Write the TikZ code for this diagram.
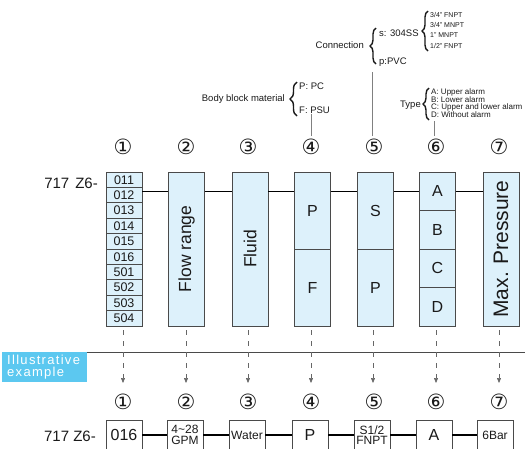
\documentclass[tikz,border=0pt]{standalone}
\usepackage{fontspec}
\setmainfont{Liberation Sans}
\newfontfamily\symfont{DejaVu Sans}
\usetikzlibrary{decorations.pathreplacing,arrows.meta}
\definecolor{boxfill}{HTML}{DDF1FB}
\definecolor{boxline}{HTML}{4A4A4A}
\definecolor{tagblue}{HTML}{5CC8F0}
\definecolor{txt}{HTML}{1A1A1A}
\begin{document}
\begin{tikzpicture}[x=1pt,y=-1pt,
  colbox/.style={draw=boxline,fill=boxfill,line width=0.8pt,minimum width=36pt,minimum height=154pt,inner sep=0pt},
  exbox/.style={draw=boxline,fill=white,line width=0.8pt,minimum width=36pt,minimum height=30pt,inner sep=0pt,text=txt,align=center},
  num/.style={font=\symfont\fontsize{21}{21}\selectfont,inner sep=0pt,text=txt},
  annot/.style={font=\fontsize{9.5}{9.5}\selectfont,inner sep=0pt,text=txt},
  tiny/.style={font=\fontsize{7}{7}\selectfont,inner sep=0pt,text=txt,anchor=west},
  small/.style={font=\fontsize{8}{8}\selectfont,inner sep=0pt,text=txt,anchor=west},
  cell/.style={font=\fontsize{12.5}{12.5}\selectfont,inner sep=0pt,text=txt},
  letter/.style={font=\fontsize{16}{16}\selectfont,inner sep=0pt,text=txt},
  vtext/.style={rotate=90,inner sep=0pt,text=txt},
  bracket/.style={decorate,decoration={brace,amplitude=7pt},line width=1.4pt,txt},
  link/.style={line width=1.6pt,black},
  lead/.style={line width=0.5pt,gray},
  darr/.style={line width=0.6pt,gray!80!black,dash pattern=on 5pt off 6pt,-{Triangle[length=5pt,width=4pt]}},
  codetxt/.style={font=\fontsize{15}{15}\selectfont,inner sep=0pt,text=txt,anchor=east}
]
\useasboundingbox (0,0) rectangle (525,448);
\clip (0,0) rectangle (525,448);

% ---------- annotations ----------
\node[annot,anchor=east] (bbm) at (285,99) {Body block material};
\draw[bracket] (297,116) -- (297,82);
\node[annot,anchor=west] (ppc) at (299,86) {P: PC};
\node[annot,anchor=west] (fpsu) at (299,110) {F: PSU};

\node[annot,anchor=east] (conn) at (364,45) {Connection};
\draw[bracket,decoration={brace,amplitude=6pt}] (376,64) -- (376,28);
\node[annot,anchor=west] (s304) at (379,33) {s: 304SS};
\node[annot,anchor=west] (ppvc) at (379,62) {p:PVC};
\draw[bracket,decoration={brace,amplitude=6pt}] (428,51) -- (428,11);
\node[tiny] (t1) at (430,15) {3/4” FNPT};
\node[tiny] (t2) at (430,25) {3/4” MNPT};
\node[tiny] (t3) at (430,35.5) {1” MNPT};
\node[tiny] (t4) at (430,46) {1/2” FNPT};

\node[annot,anchor=east] (typ) at (421,105) {Type};
\draw[bracket,decoration={brace,amplitude=6pt}] (429,120) -- (429,88);
\node[small] (ta) at (431,92) {A: Upper alarm};
\node[small] (tb) at (431,99.7) {B: Lower alarm};
\node[small] (tc) at (431,107.4) {C: Upper and lower alarm};
\node[small] (td) at (431,115.1) {D: Without alarm};

% ---------- top numbers ----------
\foreach \x/\n [count=\i] in {123/①,186/②,248/③,311/④,374/⑤,436/⑥,499/⑦}
  \node[num] (n\i) at (\x,147) {\n};

\coordinate (c4) at (311,136);
\coordinate (c5) at (372,136);
\coordinate (c6) at (434,136);
\draw[lead] (c4) -- (c4 |- fpsu.south);
\draw[lead] (c5) -- (c5 |- 0,72);
\draw[lead] (c6) -- (c6 |- 0,121);

\node[codetxt] (code1) at (98,183) {717\hspace{6pt}Z6-};

% ---------- top boxes ----------
\node[colbox] (b1) at (124,249) {};
\node[colbox] (b2) at (186.5,249) {};
\node[colbox] (b3) at (250,249) {};
\node[colbox] (b4) at (312.5,249) {};
\node[colbox] (b5) at (375.5,249) {};
\node[colbox] (b6) at (437.5,249) {};
\node[colbox] (b7) at (501,249) {};

\foreach \a/\b in {b1/b2,b2/b3,b3/b4,b4/b5,b5/b6,b6/b7}
  \draw[link] ([yshift=-20pt]\a.north east) -- ([yshift=-20pt]\b.north west);

\foreach \i in {1,...,9}
  \draw[boxline,line width=0.8pt] (106,{172+\i*15.4}) -- (142,{172+\i*15.4});
\foreach \t [count=\i] in {011,012,013,014,015,016,501,502,503,504}
  \node[cell] at (124,{172+(\i-0.5)*15.4}) {\t};

\node[vtext,font=\fontsize{17.5}{17.5}\selectfont] at (b2) {Flow range};
\node[vtext,font=\fontsize{17.5}{17.5}\selectfont] at (b3) {Fluid};
\node[vtext,font=\fontsize{21}{21}\selectfont] at (b7) {Max. Pressure};

\draw[boxline,line width=0.8pt] (b4.west) -- (b4.east);
\draw[boxline,line width=0.8pt] (b5.west) -- (b5.east);
\node[letter] at (312.5,211) {P};
\node[letter] at (312.5,288) {F};
\node[letter] at (375.5,211) {S};
\node[letter] at (375.5,288) {P};

\foreach \k in {1,2,3}
  \draw[boxline,line width=0.8pt] (419.5,{172+\k*38.5}) -- (455.5,{172+\k*38.5});
\foreach \t [count=\i] in {A,B,C,D}
  \node[letter] at (437.5,{172+(\i-0.5)*38.5}) {\t};

% ---------- separator and tag ----------
\node[fill=tagblue,minimum width=85pt,minimum height=30pt,inner sep=0pt,anchor=north west] (tag) at (2,352) {};
\node[anchor=west,inner sep=0pt,text=white,align=left,
      font=\fontsize{13}{11.5}\selectfont\addfontfeature{LetterSpace=10}] at (7,367) {Illustrative\\example};
\draw[boxline,line width=1pt] (tag.north east) -- (525,352);

% ---------- arrows ----------
\foreach \i/\x in {1/123,2/186,3/248,4/311,5/373,6/436,7/499}
  \coordinate (tip\i) at (\x,383);
\foreach \i/\x in {1/123,2/186,3/248,4/311,5/373,6/436,7/499}
  \draw[darr] (\x,330) -- (tip\i);

% ---------- bottom ----------
\foreach \x/\n [count=\i] in {123/①,186/②,248/③,311/④,374/⑤,436/⑥,499/⑦}
  \node[num] (m\i) at (\x,402) {\n};

\node[codetxt] (code2) at (96,436) {717 Z6-};

\node[exbox,font=\fontsize{16}{16}\selectfont] (e1) at (124,435) {016};
\node[exbox,font=\fontsize{12}{10.5}\selectfont] (e2) at (185,435) {4\textasciitilde28\\GPM};
\node[exbox,font=\fontsize{12}{12}\selectfont] (e3) at (247,435) {Water};
\node[exbox,font=\fontsize{16}{16}\selectfont] (e4) at (310,435) {P};
\node[exbox,font=\fontsize{12}{10.5}\selectfont] (e5) at (372,435) {S1/2\\FNPT};
\node[exbox,font=\fontsize{16}{16}\selectfont] (e6) at (434,435) {A};
\node[exbox,font=\fontsize{12}{12}\selectfont] (e7) at (495,435) {6Bar};
\foreach \a/\b in {e1/e2,e2/e3,e3/e4,e4/e5,e5/e6,e6/e7}
  \draw[link] (\a.east) -- (\b.west);
\end{tikzpicture}
\end{document}
